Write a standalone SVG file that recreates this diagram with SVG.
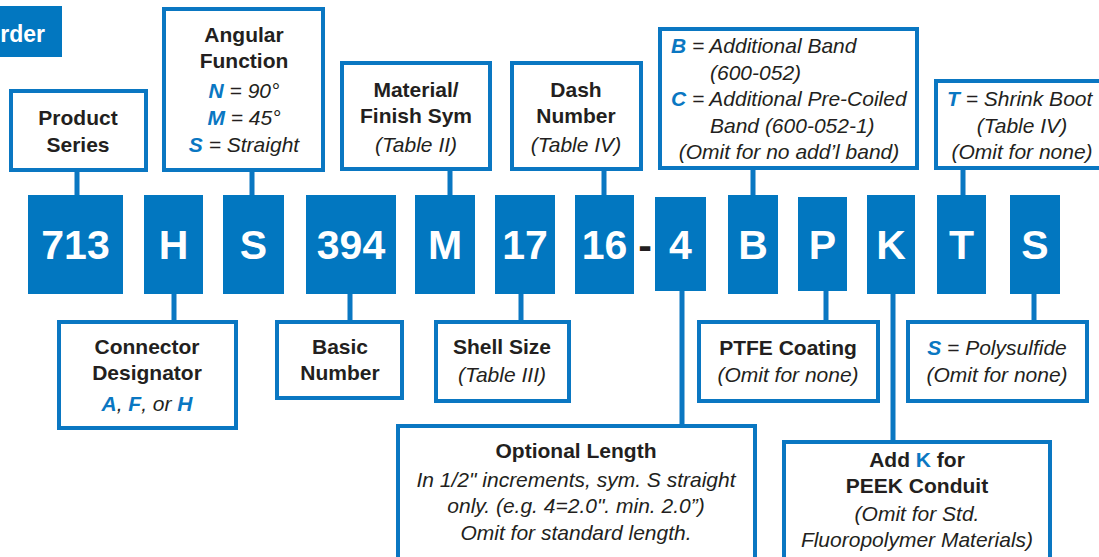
<svg xmlns="http://www.w3.org/2000/svg" width="1099" height="557" viewBox="0 0 1099 557">
<style>
text{font-family:"Liberation Sans",Arial,sans-serif;fill:#231f20}
.lbl{fill:#fff;stroke:#0a77c2;stroke-width:4}
.code{fill:#0277c0}
.ct{font-size:41px;font-weight:bold;fill:#fff;text-anchor:middle}
.b{font-size:21px;font-weight:bold;text-anchor:middle}
.i{font-size:21px;font-style:italic;text-anchor:middle}
.il{font-size:21px;font-style:italic}
.k{fill:#0a77c2;font-weight:bold}
.stem{stroke:#0a77c2;stroke-width:5;fill:none}
</style>
<g id="title">
<rect x="0" y="6" width="62" height="51" fill="#0277c0"/>
<text x="45" y="42" font-size="23" font-weight="bold" text-anchor="end" style="fill:#fff">rder</text>
</g>
<g id="connectors">
<path class="stem" d="M77 170V195M252 170V195M450 169V195M604 169V195M753 168V195M963 168V195"/>
<path class="stem" d="M174 294V322M350 294V322M521 294V322M682 291V426M826 291V322M893 294V442M1034 294V322"/>
</g>
<g id="product-series"><rect class="lbl" x="11" y="91" width="135" height="79"/>
<text class="b" x="78" y="125">Product</text><text class="b" x="78" y="152">Series</text></g>
<g id="angular-function"><rect class="lbl" x="164" y="9" width="159" height="161"/>
<text class="b" x="244" y="42">Angular</text><text class="b" x="244" y="68">Function</text>
<text class="i" x="244" y="98"><tspan class="k">N</tspan> = 90°</text>
<text class="i" x="244" y="125"><tspan class="k">M</tspan> = 45°</text>
<text class="i" x="244" y="152"><tspan class="k">S</tspan> = Straight</text></g>
<g id="material-finish"><rect class="lbl" x="342" y="63" width="148" height="106"/>
<text class="b" x="416" y="97">Material/</text><text class="b" x="416" y="123">Finish Sym</text>
<text class="i" x="416" y="152">(Table II)</text></g>
<g id="dash-number"><rect class="lbl" x="512" y="63" width="129" height="106"/>
<text class="b" x="576" y="97">Dash</text><text class="b" x="576" y="123">Number</text>
<text class="i" x="576" y="152">(Table IV)</text></g>
<g id="band"><rect class="lbl" x="660" y="29" width="257" height="139"/>
<text class="il" x="671" y="53"><tspan class="k">B</tspan> = Additional Band</text>
<text class="il" x="710" y="80">(600-052)</text>
<text class="il" x="671" y="106"><tspan class="k">C</tspan> = Additional Pre-Coiled</text>
<text class="il" x="710" y="133">Band (600-052-1)</text>
<text class="i" x="789" y="159">(Omit for no add’l band)</text></g>
<g id="shrink-boot"><rect class="lbl" x="936" y="81" width="170" height="87"/>
<text class="il" x="947" y="106"><tspan class="k">T</tspan> = Shrink Boot</text>
<text class="i" x="1022" y="133">(Table IV)</text>
<text class="i" x="1022" y="159">(Omit for none)</text></g>
<g id="code-713"><rect class="code" x="28" y="195" width="95" height="99"/><text class="ct" x="75.5" y="259">713</text></g>
<g id="code-H"><rect class="code" x="144" y="195" width="59" height="99"/><text class="ct" x="173.5" y="259">H</text></g>
<g id="code-S1"><rect class="code" x="223" y="195" width="61" height="99"/><text class="ct" x="253.5" y="259">S</text></g>
<g id="code-394"><rect class="code" x="306" y="195" width="90" height="99"/><text class="ct" x="351" y="259">394</text></g>
<g id="code-M"><rect class="code" x="415" y="195" width="60" height="99"/><text class="ct" x="445" y="259">M</text></g>
<g id="code-17"><rect class="code" x="495" y="195" width="60" height="99"/><text class="ct" x="525" y="259">17</text></g>
<g id="code-16"><rect class="code" x="575" y="195" width="59" height="99"/><text class="ct" x="604.5" y="259">16</text></g>
<g id="dash"><text x="645" y="259" font-size="41" font-weight="bold" text-anchor="middle">-</text></g>
<g id="code-4"><rect class="code" x="655" y="197" width="51" height="94"/><text class="ct" x="680.5" y="259">4</text></g>
<g id="code-B"><rect class="code" x="728" y="195" width="50" height="99"/><text class="ct" x="753" y="259">B</text></g>
<g id="code-P"><rect class="code" x="798" y="197" width="49" height="94"/><text class="ct" x="822.5" y="259">P</text></g>
<g id="code-K"><rect class="code" x="867" y="195" width="48" height="99"/><text class="ct" x="891" y="259">K</text></g>
<g id="code-T"><rect class="code" x="937" y="195" width="49" height="99"/><text class="ct" x="961.5" y="259">T</text></g>
<g id="code-S2"><rect class="code" x="1010" y="195" width="50" height="99"/><text class="ct" x="1035" y="259">S</text></g>
<g id="connector-designator"><rect class="lbl" x="59" y="322" width="177" height="106"/>
<text class="b" x="147" y="354">Connector</text><text class="b" x="147" y="380">Designator</text>
<text class="i" x="147" y="411"><tspan class="k">A</tspan>, <tspan class="k">F</tspan>, or <tspan class="k">H</tspan></text></g>
<g id="basic-number"><rect class="lbl" x="277" y="322" width="125" height="76"/>
<text class="b" x="340" y="354">Basic</text><text class="b" x="340" y="380">Number</text></g>
<g id="shell-size"><rect class="lbl" x="436" y="322" width="133" height="79"/>
<text class="b" x="502" y="354">Shell Size</text><text class="i" x="502" y="382">(Table III)</text></g>
<g id="ptfe"><rect class="lbl" x="699" y="322" width="179" height="79"/>
<text class="b" x="788" y="355">PTFE Coating</text><text class="i" x="788" y="382">(Omit for none)</text></g>
<g id="polysulfide"><rect class="lbl" x="908" y="322" width="179" height="79"/>
<text class="i" x="997" y="355"><tspan class="k">S</tspan> = Polysulfide</text><text class="i" x="997" y="382">(Omit for none)</text></g>
<g id="optional-length"><rect class="lbl" x="398" y="426" width="357" height="140"/>
<text class="b" x="576" y="458">Optional Length</text>
<text class="i" x="576" y="487">In 1/2" increments, sym. S straight</text>
<text class="i" x="576" y="513">only. (e.g. 4=2.0". min. 2.0”)</text>
<text class="i" x="576" y="540">Omit for standard length.</text></g>
<g id="peek"><rect class="lbl" x="784" y="442" width="266" height="130"/>
<text class="b" x="917" y="467">Add <tspan style="fill:#0a77c2">K</tspan> for</text>
<text class="b" x="917" y="493">PEEK Conduit</text>
<text class="i" x="917" y="521">(Omit for Std.</text>
<text class="i" x="917" y="547">Fluoropolymer Materials)</text></g>
</svg>
